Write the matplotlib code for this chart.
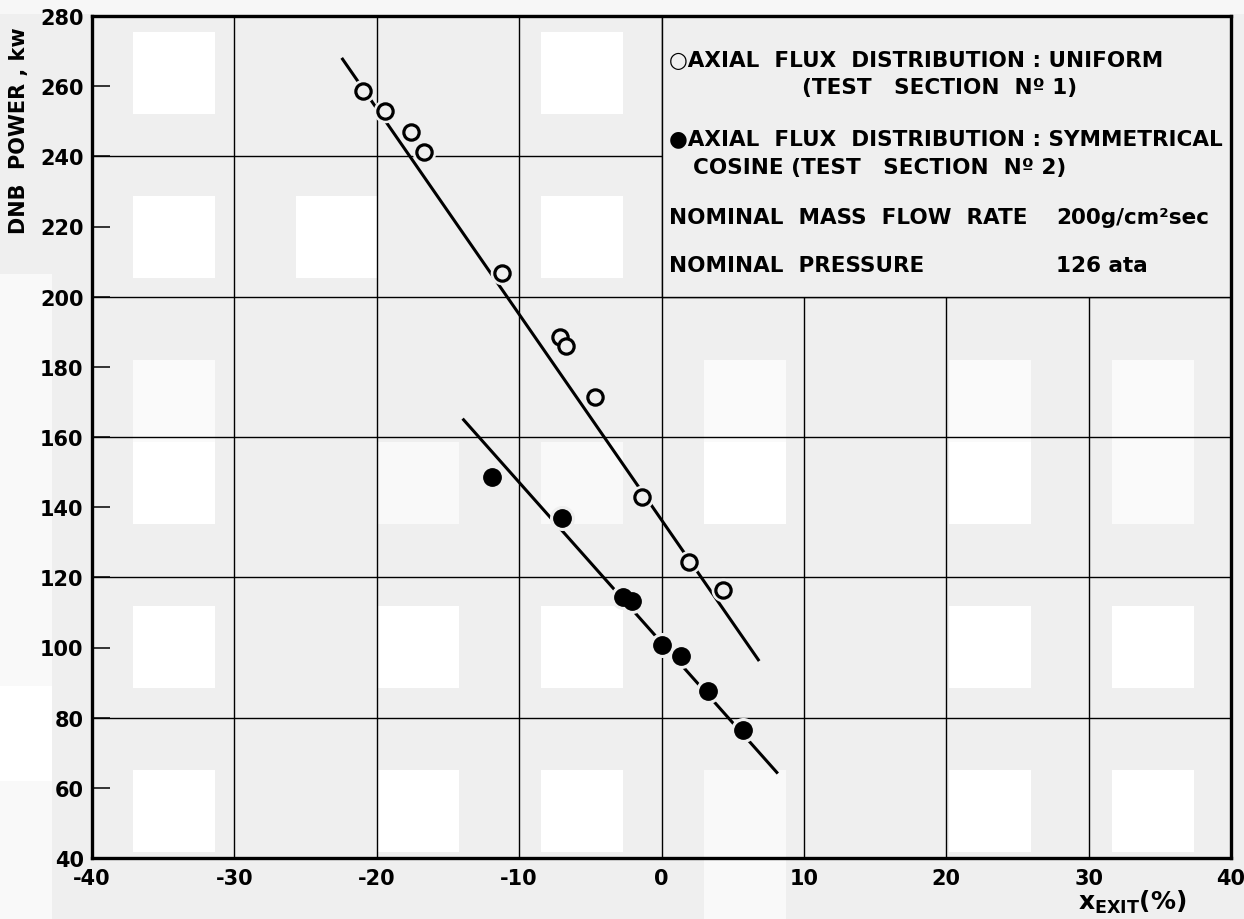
import matplotlib
matplotlib.use("Agg")
import matplotlib.pyplot as plt
from matplotlib.patches import Rectangle

plt.rcParams["font.family"] = ["DejaVu Sans"]
plt.rcParams["axes.unicode_minus"] = False

# --- DNB power vs exit quality, two axial flux shapes ---
uniform_x = [-21.0, -19.4, -17.6, -16.7, -11.2, -7.1, -6.7, -4.7, -1.4, 1.9, 4.3]
uniform_y = [258.7, 252.8, 246.8, 241.1, 206.7, 188.4, 185.8, 171.3, 142.8, 124.4, 116.4]
cosine_x = [-11.9, -7.0, -2.7, -2.1, 0.0, 1.4, 3.3, 5.7]
cosine_y = [148.7, 136.8, 114.3, 113.3, 100.7, 97.5, 87.5, 76.5]

# hand-drawn best-fit lines (end points)
uniform_fit_x = [-22.4, 6.8]
uniform_fit_y = [267.7, 96.5]
cosine_fit_x = [-13.9, 8.1]
cosine_fit_y = [164.9, 64.4]

x_ticks = list(range(-40, 41, 10))
y_ticks = list(range(40, 281, 20))
y_grid = [80, 120, 160, 200, 240]

# paper texture: (row, col, shade) of the lighter tiles
paper_tiles = [
    (0, 0, 1.0), (0, 5, 1.0),
    (2, 0, 1.0), (2, 2, 1.0), (2, 5, 1.0),
    (4, 0, 0.7), (4, 7, 0.7), (4, 10, 0.7), (4, 12, 0.7),
    (5, 0, 1.0), (5, 3, 0.6), (5, 5, 0.6), (5, 7, 1.0), (5, 10, 1.0), (5, 12, 0.7),
    (7, 0, 1.0), (7, 3, 1.0), (7, 5, 1.0), (7, 10, 1.0), (7, 12, 1.0),
    (9, 0, 1.0), (9, 3, 1.0), (9, 5, 1.0), (9, 7, 0.6), (9, 10, 1.0), (9, 12, 1.0),
    (10, 7, 0.6),
]
# lighter strips along the page margins: (x, y, w, h, shade)
paper_strips = [
    (0, 0, 1244, 15, 0.5),
    (0, 275, 52, 412, 0.6),
    (0, 687, 52, 95, 1.0),
    (0, 782, 52, 138, 0.6),
]

PAPER = "#efefef"
W, H = 1244, 920


def shade_grey(s):
    g = 0.937 + 0.063 * s
    return (g, g, g)


fig = plt.figure(figsize=(W / 100, H / 100), dpi=100, facecolor=PAPER)

bg = fig.add_axes([0, 0, 1, 1], zorder=-1)
bg.set_xlim(0, W)
bg.set_ylim(H, 0)
bg.axis("off")
for row, col, s in paper_tiles:
    bg.add_patch(Rectangle((133 + 81.6 * col, 33 + 82 * row), 81.6, 82,
                           facecolor=shade_grey(s), edgecolor="none"))
for x0, y0, w, h, s in paper_strips:
    bg.add_patch(Rectangle((x0, y0), w, h, facecolor=shade_grey(s), edgecolor="none"))

ax = fig.add_axes([92 / W, 1 - 859 / H, (1231 - 92) / W, (859 - 17) / H])
ax.set_facecolor("none")
ax.set_xlim(-40, 40)
ax.set_ylim(40, 280)
ax.set_axisbelow(True)

ax.set_xticks(x_ticks)
ax.set_yticks(y_ticks)
ax.tick_params(axis="x", length=0, pad=7, labelsize=15)
ax.tick_params(axis="y", direction="in", length=13, width=1.1, pad=6, labelsize=15)
for lab in ax.get_xticklabels() + ax.get_yticklabels():
    lab.set_fontweight("bold")
ax.xaxis.grid(True, color="black", linewidth=1.0, zorder=0.5)
ax.hlines(y_grid, -40, 40, color="black", linewidth=1.0, zorder=0.5)
for spine in ax.spines.values():
    spine.set_linewidth(2.4)

# legend panel covers the grid in the upper right
ax.add_patch(Rectangle((0, 200), 40, 80, facecolor=PAPER, edgecolor="black",
                       linewidth=1.0, zorder=1.5))

# fit lines
ax.plot(uniform_fit_x, uniform_fit_y, color="black", linewidth=2.2, zorder=2)
ax.plot(cosine_fit_x, cosine_fit_y, color="black", linewidth=2.2, zorder=2)

# halo so the lines break around the points
ax.plot(uniform_x, uniform_y, "o", ms=16, color=PAPER, zorder=3)
ax.plot(cosine_x, cosine_y, "o", ms=17, color=PAPER, zorder=3)
ax.plot(uniform_x, uniform_y, "o", ms=11, mfc=PAPER, mec="black", mew=2.3, zorder=4)
ax.plot(cosine_x, cosine_y, "o", ms=12.5, color="black", zorder=4)

tkw = dict(fontsize=15.5, fontweight="bold", va="center", ha="left", zorder=5)
ax.text(0.5, 267.5, "○AXIAL  FLUX  DISTRIBUTION : UNIFORM", **tkw)
ax.text(9.9, 259.8, "(TEST   SECTION  Nº 1)", **tkw)
ax.text(0.5, 245.2, "●AXIAL  FLUX  DISTRIBUTION : SYMMETRICAL", **tkw)
ax.text(2.2, 237.0, "COSINE (TEST   SECTION  Nº 2)", **tkw)
ax.text(0.5, 222.7, "NOMINAL  MASS  FLOW  RATE", **tkw)
ax.text(27.7, 222.7, "200g/cm²sec", **tkw)
ax.text(0.5, 209.0, "NOMINAL  PRESSURE", **tkw)
ax.text(27.7, 209.0, "126 ata", **tkw)

fig.text(19 / W, 1 - 131 / H, "DNB  POWER , kw", rotation=90,
         ha="center", va="center", fontsize=15, fontweight="bold")
fig.text(1078 / W, 0.004, r"x$_{\mathregular{EXIT}}$(%)", ha="left", va="bottom",
         fontsize=18, fontweight="bold")

fig.savefig("out.png", dpi=100, facecolor=PAPER)
